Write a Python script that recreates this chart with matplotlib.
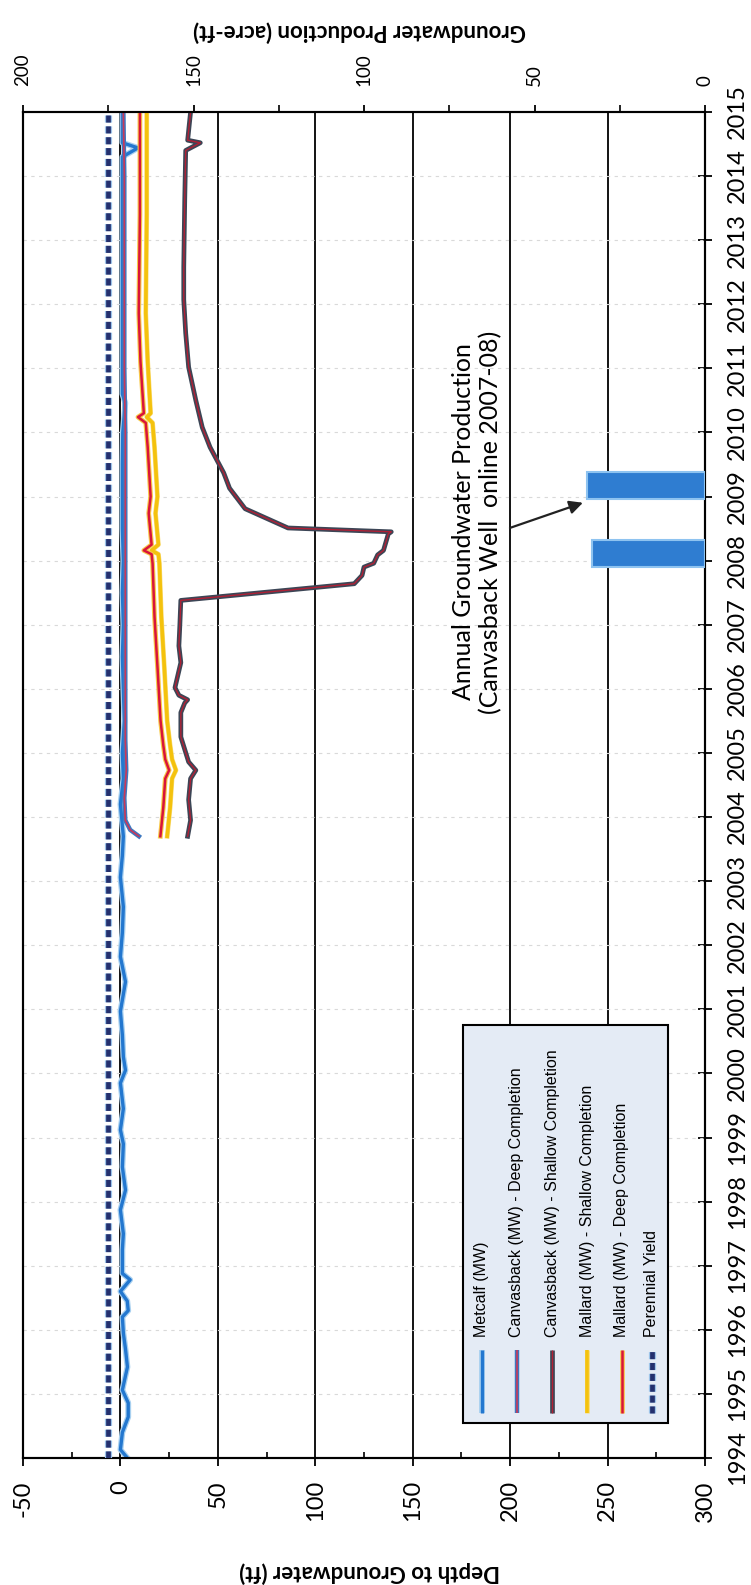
import matplotlib
matplotlib.use("Agg")
import matplotlib.pyplot as plt
import matplotlib.patheffects as pe
from matplotlib.patches import Rectangle
import numpy as np

plt.rcParams['font.family'] = ['Lato', 'DejaVu Sans']

# --- data (decimal years vs depth to groundwater, ft) ---
metcalf_years = [1994.0, 1994.13, 1994.4, 1994.64, 1994.86, 1995.06, 1995.42, 1995.7, 1995.95,
                 1996.2, 1996.3, 1996.45, 1996.6, 1996.78, 1996.88, 1997.25, 1997.5, 1997.87,
                 1998.18, 1998.54, 1998.9, 1999.12, 1999.45, 1999.85, 2000.05, 2000.26, 2000.6,
                 2000.97, 2001.43, 2001.82, 2002.2, 2002.6, 2003.06, 2003.4, 2003.7, 2004.2,
                 2004.6, 2005.0, 2005.5, 2006.0, 2006.5, 2007.0, 2007.5, 2008.0, 2008.5,
                 2009.0, 2009.5, 2010.0, 2010.46, 2010.6, 2011.0, 2011.5, 2012.0, 2012.5,
                 2013.0, 2013.5, 2014.0, 2014.3, 2014.44, 2014.52, 2014.7, 2015.0]
metcalf_depth = [3.6, 0.0, 1.0, 4.0, 4.0, 1.0, 3.6, 2.6, 1.5,
                 1.0, 4.0, 3.5, 0.0, 5.0, 1.0, 1.0, 1.5, 0.0,
                 2.6, 1.0, 1.5, 0.0, 1.5, 0.0, 2.6, 1.5, 1.0,
                 0.0, 2.6, 0.0, 1.0, 1.5, 0.0, 1.0, 1.5, 0.0,
                 1.5, 1.0, 2.0, 1.5, 1.0, 1.5, 1.0, 1.5, 1.0,
                 1.0, 1.0, 1.2, 2.5, 1.0, 1.0, 1.0, 1.0, 1.0,
                 1.0, 1.0, 1.0, 1.0, 9.0, 1.0, 1.0, 1.0]

cb_deep_years = [2003.7, 2003.8, 2003.95, 2004.3, 2004.73, 2005.2, 2006.0, 2007.0, 2008.0,
                 2009.0, 2010.0, 2011.0, 2012.0, 2013.0, 2014.0, 2015.0]
cb_deep_depth = [9.5, 5.0, 2.5, 2.0, 3.0, 2.5, 2.5, 2.5, 2.5,
                 2.5, 2.5, 2.0, 2.0, 2.0, 2.0, 1.5]

cb_shallow_years = [2003.7, 2003.95, 2004.27, 2004.6, 2004.73, 2004.86, 2005.25, 2005.63, 2005.78,
                    2005.83, 2005.9, 2006.02, 2006.41, 2006.67, 2007.0, 2007.38, 2007.64, 2007.77,
                    2007.9, 2007.96, 2008.09, 2008.16, 2008.42, 2008.45, 2008.51, 2008.81, 2009.13,
                    2009.37, 2009.77, 2010.08, 2010.5, 2011.02, 2011.55, 2012.07, 2012.58, 2013.63,
                    2014.4, 2014.52, 2014.56, 2015.0]
cb_shallow_depth = [34.5, 36.0, 35.0, 36.0, 38.7, 35.0, 31.0, 31.0, 33.0,
                    34.5, 30.0, 28.0, 31.0, 30.0, 30.5, 31.0, 120.0, 124.0,
                    125.0, 130.0, 132.0, 135.0, 137.5, 139.0, 86.0, 64.0, 56.0,
                    53.0, 46.0, 42.0, 38.7, 35.0, 33.5, 32.5, 32.5, 33.0,
                    33.5, 41.0, 34.5, 36.0]

mallard_years = [2003.7, 2004.15, 2004.6, 2004.73, 2004.9, 2005.12, 2005.5, 2006.35, 2007.12,
                 2007.96, 2008.1, 2008.16, 2008.25, 2008.74, 2009.0, 2009.77, 2010.15, 2010.24,
                 2010.3, 2011.1, 2011.86, 2013.4, 2015.0]
mallard_deep_depth = [20.5, 22.0, 23.0, 25.0, 23.0, 22.0, 20.6, 19.0, 17.5,
                      16.5, 16.0, 12.0, 16.0, 14.5, 15.5, 14.0, 13.0, 9.0,
                      12.0, 10.3, 9.4, 10.0, 10.0]
mallard_shallow_depth = [24.0, 25.5, 26.5, 28.5, 26.5, 25.5, 24.0, 22.5, 21.0,
                         20.0, 19.5, 16.0, 19.5, 18.0, 19.0, 17.5, 16.5, 13.5,
                         15.5, 14.0, 13.0, 13.5, 13.5]

yield_years = [1994, 2015]
perennial_yield = 175          # acre-ft

prod_years = [2008.11, 2009.17]
prod_values = [33.0, 34.5]     # acre-ft

year_ticks = list(range(1994, 2016))
depth_ticks = list(range(-50, 301, 50))
prod_ticks = list(range(0, 201, 50))

legend_labels = ["Metcalf (MW)", "Canvasback (MW) - Deep Completion",
                 "Canvasback (MW) - Shallow Completion", "Mallard (MW) - Shallow Completion",
                 "Mallard (MW) - Deep Completion", "Perennial Yield"]

# line styles: main colour/width plus an outline stroke
styles = [
    dict(color='#2377CF', lw=2.4, oc='#A8D0F0', ow=4.2, dashes=None),
    dict(color='#C8385A', lw=1.2, oc='#3D78C0', ow=3.2, dashes=None),
    dict(color='#B02035', lw=1.0, oc='#3C4656', ow=3.4, dashes=None),
    dict(color='#F4C20D', lw=2.6, oc='#F9DD7A', ow=3.4, dashes=None),
    dict(color='#D9143A', lw=1.8, oc='#F7C948', ow=3.4, dashes=None),
    dict(color='#24306E', lw=3.4, oc='#9CC3E8', ow=5.2, dashes=(1.5, 0.8)),
]


def effects(st):
    return [pe.Stroke(linewidth=st['ow'], foreground=st['oc']), pe.Normal()]


W, H = 751, 1585
fig = plt.figure(figsize=(W / 100, H / 100), dpi=100)
ax = fig.add_axes([23 / W, 1 - 1458 / H, 682 / W, 1346 / H])
ax2 = ax.twiny()

series = [(metcalf_depth, metcalf_years), (cb_deep_depth, cb_deep_years),
          (cb_shallow_depth, cb_shallow_years), (mallard_shallow_depth, mallard_years),
          (mallard_deep_depth, mallard_years)]
for (d, y), st in zip(series, styles[:5]):
    ax.plot(d, y, color=st['color'], lw=st['lw'], path_effects=effects(st), zorder=3)

# faint year gridlines and black depth gridlines
for yr in year_ticks[1:-1]:
    ax.axhline(yr, color='#D9D9D9', lw=0.8, ls=(0, (3, 4)), zorder=1)
ax.grid(axis='x', which='major', color='black', lw=1.3, zorder=1)
ax.set_axisbelow(True)

ax.set_xlim(-50, 300)
ax.set_ylim(1994, 2015)
ax.set_xticks(depth_ticks, [str(t) for t in depth_ticks], rotation=90)
ax.set_xticks(np.arange(-25, 300, 50), minor=True)
ax.tick_params(axis='x', which='major', direction='out', length=6, width=1.3, pad=10, labelsize=17)
ax.tick_params(axis='x', which='minor', direction='in', length=4, width=1.2)

ax.yaxis.tick_right()
ax.set_yticks(year_ticks, [str(t) for t in year_ticks], rotation=90, va='center')
ax.tick_params(axis='y', direction='inout', length=10, width=1.3, pad=11, labelsize=17)

# secondary axis: groundwater production
ax2.set_xlim(200, 0)
ax2.barh(prod_years, prod_values, height=0.42, left=0, color='#2F7DD1',
         edgecolor='#8EC3F0', linewidth=1.5, zorder=3)
st = styles[5]
ax2.plot([perennial_yield, perennial_yield], yield_years, color=st['color'], lw=st['lw'],
         dashes=st['dashes'], path_effects=effects(st), zorder=3)
ax2.set_xticks(prod_ticks, [str(t) for t in prod_ticks], rotation=90)
ax2.set_xticks(np.arange(25, 200, 50), minor=True)
ax2.tick_params(axis='x', which='major', direction='out', length=5, width=1.3, pad=14, labelsize=13.5)
ax2.tick_params(axis='x', which='minor', direction='out', length=5, width=1.2)

for a in (ax, ax2):
    for sp in a.spines.values():
        sp.set_linewidth(1.5)
        sp.set_color('black')

# annotation for production bars
ax2.text(0.666, 0.6954, "Annual Groundwater Production\n(Canvasback Well  online 2007-08)",
         transform=ax2.transAxes, rotation=90, ha='center', va='center',
         multialignment='center', fontsize=18, zorder=6)
ax2.annotate('', xy=(0.821, 0.7097), xycoords='axes fraction',
             xytext=(0.714, 0.691), textcoords='axes fraction',
             arrowprops=dict(arrowstyle='-|>', color='#222222', lw=1.6, mutation_scale=20,
                             shrinkA=0, shrinkB=0), zorder=6)

# legend drawn by hand, rotated like the rest of the chart
ax2.add_patch(Rectangle((0.645, 0.026), 0.301, 0.296, transform=ax2.transAxes,
                        facecolor='#E4EBF5', edgecolor='black', lw=1.5, zorder=10))
leg_x = [0.673, 0.724, 0.776, 0.827, 0.878, 0.922]
for xf, lab, st in zip(leg_x, legend_labels, styles):
    ax2.plot([xf, xf], [0.0334, 0.0802], transform=ax2.transAxes, color=st['color'],
             lw=st['lw'], dashes=st['dashes'] if st['dashes'] else (None, None),
             path_effects=effects(st), zorder=11, solid_capstyle='butt')
    ax2.text(xf, 0.0899, lab, transform=ax2.transAxes, rotation=90, ha='center', va='bottom',
             fontsize=11.5, family=['Liberation Sans', 'DejaVu Sans'], zorder=12)

# axis titles (chart is turned on its side)
fig.text(370 / W, 1 - 1572 / H, "Depth to Groundwater (ft)", rotation=180,
         ha='center', va='center', fontsize=16, fontweight='bold')
fig.text(360 / W, 1 - 31 / H, "Groundwater Production (acre-ft)", rotation=180,
         ha='center', va='center', fontsize=16, fontweight='bold')

fig.savefig("out.png", dpi=100)
